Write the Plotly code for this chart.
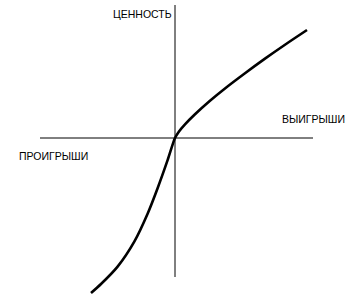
import plotly.graph_objects as go

# Value function (prospect theory); origin = reference point
outcome = [-84, -74, -57.4, -40.7, -27.4, -17.4, -7.4, 0,
           4, 10, 20, 35, 50, 70, 90, 110, 132]
value = [-155, -146, -128.6, -103.6, -75.7, -50.2, -22.2, 0,
         6.6, 13.7, 23.8, 37.3, 49.6, 64.8, 79.4, 93.3, 108]

x_axis_extent = [-135, 138]
y_axis_extent = [-139, 133]

label_value = "ЦЕННОСТЬ"
label_gains = "ВЫИГРЫШИ"
label_losses = "ПРОИГРЫШИ"

fig = go.Figure()
fig.add_trace(go.Scatter(x=x_axis_extent, y=[0, 0], mode="lines",
                         line=dict(color="black", width=1), hoverinfo="skip"))
fig.add_trace(go.Scatter(x=[0, 0], y=y_axis_extent, mode="lines",
                         line=dict(color="black", width=1), hoverinfo="skip"))
fig.add_trace(go.Scatter(x=outcome, y=value, mode="lines",
                         line=dict(color="black", width=2.6, shape="spline", smoothing=0.8)))

font = dict(family="Liberation Sans Narrow, Arial Narrow, Liberation Sans", size=10.5, color="black")
fig.add_annotation(x=-33, y=124.5, text=label_value, showarrow=False, font=font)
fig.add_annotation(x=138, y=19, text=label_gains, showarrow=False, font=font)
fig.add_annotation(x=-121.5, y=-18, text=label_losses, showarrow=False, font=font)

fig.update_layout(width=353, height=304, margin=dict(l=0, r=0, t=0, b=0),
                  paper_bgcolor="white", plot_bgcolor="white", showlegend=False)
fig.update_xaxes(range=[-175, 178], visible=False)
fig.update_yaxes(range=[-166, 138], visible=False)
fig.write_html("out.html")
